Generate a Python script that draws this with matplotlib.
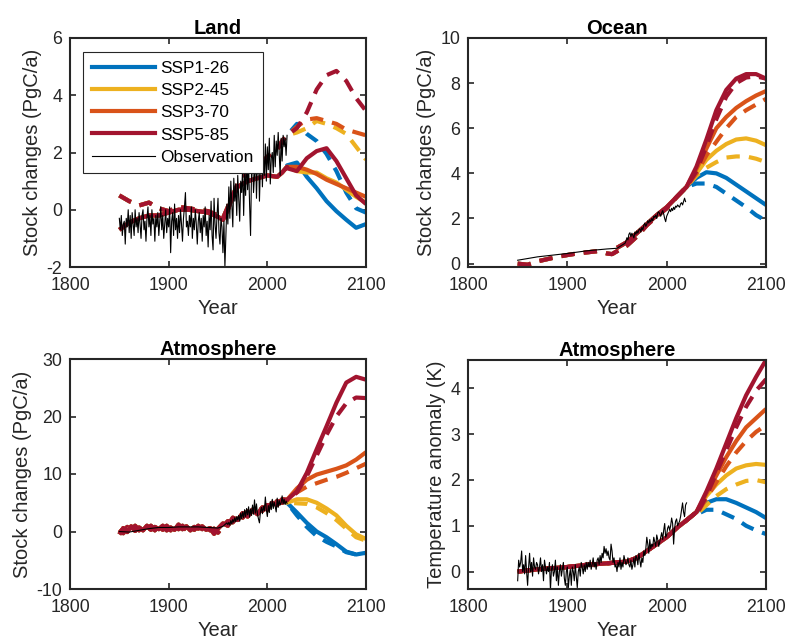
import matplotlib
matplotlib.use("Agg")
import matplotlib.pyplot as plt
from matplotlib.lines import Line2D

plt.rcParams["font.family"] = ["Liberation Sans", "DejaVu Sans"]
plt.rcParams["axes.unicode_minus"] = False

scenarios = ["SSP1-26", "SSP2-45", "SSP3-70", "SSP5-85"]
colors = ["#0072BD", "#EDB120", "#D95319", "#A2142F"]
ink = "#262626"

fut_years = [2020, 2030, 2040, 2050, 2060, 2070, 2080, 2090, 2100]
obs_years = list(range(1850, 2021))

# ---------------- Land ----------------
land_hist_years = [1850, 1860, 1870, 1880, 1890, 1900, 1910, 1920, 1930, 1940,
                   1950, 1955, 1960, 1965, 1970, 1980, 1990, 2000, 2010, 2015, 2020]
land_hist_solid = [-0.7, -0.45, -0.3, -0.2, -0.2, -0.1, 0.0, 0.0, -0.05, -0.1,
                   -0.25, -0.35, 0.0, 0.5, 0.8, 1.0, 1.1, 1.2, 1.15, 1.3, 1.5]
land_hist_dashed = [0.5, 0.3, 0.15, 0.25, 0.05, -0.05, 0.1, 0.05, 0.0, -0.05,
                    -0.2, -0.3, 0.1, 0.5, 0.9, 1.3, 1.5, 1.85, 2.1, 2.4, 2.6]
land_fut_solid = [
    [1.55, 1.65, 1.15, 0.75, 0.3, -0.05, -0.35, -0.63, -0.5],
    [1.5, 1.35, 1.3, 1.3, 1.1, 0.95, 0.7, 0.45, 0.25],
    [1.5, 1.5, 1.4, 1.25, 1.05, 0.9, 0.75, 0.6, 0.45],
    [1.45, 1.35, 1.8, 2.05, 2.15, 1.7, 1.1, 0.5, 0.2],
]
land_fut_dashed = [
    [2.6, 3.0, 2.65, 2.4, 1.95, 1.35, 0.6, 0.05, -0.1],
    [2.6, 2.7, 2.85, 3.1, 3.0, 2.85, 2.65, 2.2, 1.75],
    [2.6, 2.9, 3.15, 3.2, 3.1, 3.0, 2.8, 2.7, 2.6],
    [2.6, 2.85, 3.4, 4.2, 4.7, 4.85, 4.5, 3.9, 3.45],
]
land_obs = [
    -0.3, -0.7, -0.2, -0.9, -0.5, -0.4, -1.2, -0.3, -0.6, 0.0,
    -0.8, -0.2, -1.0, -0.1, -0.5, -0.9, 0.0, -0.6, -0.3, -0.8,
    -0.1, -0.5, -1.0, -0.2, 0.0, -0.7, -0.4, -1.1, -0.3, 0.1,
    -0.6, -0.2, -0.9, 0.0, -0.5, -0.3, -1.1, -0.2, -0.6, -0.1,
    -0.9, -0.4, 0.1, -0.7, -0.2, -1.0, -0.5, 0.0, -0.8, -0.3,
    -0.6, 0.1, -1.5, -0.4, -0.1, -0.9, 0.2, -0.7, -0.3, -1.0,
    -0.2, -0.8, 0.0, -0.5, -1.1, -0.3, 0.1, 0.6, -0.6, -0.4,
    -0.9, -0.2, -0.6, 0.1, -1.0, -0.3, -0.7, 0.0, -0.5, -1.2,
    -0.4, -0.1, -0.8, -0.3, -1.1, -0.2, -0.6, 0.1, -0.9, -0.4,
    -1.3, -0.2, -0.7, 0.3, -0.9, -1.4, 0.4, -0.5, -1.0, -0.2,
    0.4, -0.8, -1.2, -0.3, -0.6, -1.5, -0.4, -2.0, -0.9, 0.2,
    -0.5, 0.8, -0.3, 1.0, 0.2, -0.6, 1.1, 0.3, 0.9, -0.2,
    1.2, 0.4, -0.4, 1.0, 0.6, 1.5, -0.2, 1.3, 0.5, 1.8,
    0.7, 1.6, 0.2, -0.9, 1.4, 1.9, 0.6, 1.2, 2.0, 0.4,
    1.7, 2.1, 0.3, 1.5, 2.2, 0.8, 1.9, 1.2, 2.3, 1.0,
    2.2, 1.4, 2.5, 0.9, 1.8, 2.0, 1.3, 2.6, 1.5, 2.4,
    1.9, 2.7, 2.0, 1.2, 2.5, 1.7, 2.6, 2.2, 2.5, 1.9,
    2.6,
]

# ---------------- Ocean ----------------
ocean_hist_years_s = [1950, 1960, 1970, 1980, 1990, 2000, 2010, 2020]
ocean_hist_solid = [0.7, 0.95, 1.35, 1.75, 2.15, 2.5, 2.95, 3.4]
ocean_hist_years_d = [1850, 1860, 1870, 1880, 1890, 1900, 1910, 1920, 1930, 1940,
                      1945, 1950, 1960, 1970, 1980, 1990, 2000, 2010, 2020]
ocean_hist_dashed = [0.0, -0.05, 0.1, 0.2, 0.3, 0.38, 0.45, 0.5, 0.55, 0.45,
                     0.42, 0.55, 0.8, 1.2, 1.7, 2.1, 2.45, 2.95, 3.4]
ocean_fut_solid = [
    [3.4, 3.8, 4.05, 4.0, 3.8, 3.5, 3.2, 2.9, 2.6],
    [3.4, 4.0, 4.6, 5.0, 5.3, 5.5, 5.55, 5.45, 5.25],
    [3.4, 4.2, 5.1, 6.0, 6.5, 6.9, 7.2, 7.45, 7.65],
    [3.4, 4.3, 5.5, 6.8, 7.7, 8.2, 8.4, 8.4, 8.2],
]
ocean_fut_dashed = [
    [3.4, 3.55, 3.55, 3.4, 3.1, 2.8, 2.5, 2.15, 1.9],
    [3.4, 3.9, 4.25, 4.5, 4.7, 4.75, 4.75, 4.65, 4.5],
    [3.4, 4.0, 4.8, 5.4, 6.0, 6.5, 6.8, 7.05, 7.3],
    [3.4, 4.1, 5.2, 6.4, 7.4, 8.0, 8.25, 8.3, 8.2],
]
ocean_obs_years = [1850, 1870, 1900, 1920, 1940, 1950, 1958] + list(range(1959, 2020))
ocean_obs = [
    0.15, 0.3, 0.45, 0.57, 0.65, 0.68, 0.9,
    1.0, 1.15, 1.05, 1.3, 1.37, 1.2, 1.35, 1.25, 1.14, 1.4, 1.3,
    1.45, 1.35, 1.5, 1.55, 1.4, 1.6, 1.5, 1.7, 1.8, 1.65,
    1.75, 1.9, 1.8, 1.95, 1.85, 2.0, 1.9, 2.1, 2.05, 2.15,
    2.0, 2.25, 2.3, 2.2, 2.1, 2.25, 2.35, 2.2, 2.0, 1.86,
    2.1, 2.2, 2.3, 2.4, 2.3, 2.45, 2.35, 2.5, 2.4, 2.55,
    2.5, 2.6, 2.55, 2.5, 2.65, 2.7, 2.6, 2.75, 2.9, 2.75,
]

# ---------------- Atmosphere (carbon) ----------------
atm_hist_years = [1850, 1854, 1858, 1862, 1866, 1870, 1874, 1878, 1882, 1886,
                  1890, 1894, 1898, 1902, 1906, 1910, 1914, 1918, 1922, 1926,
                  1930, 1934, 1938, 1942, 1946, 1950, 1955, 1960, 1965, 1970,
                  1975, 1980, 1985, 1990, 1995, 2000, 2005, 2010, 2015, 2020]
atm_hist_solid = [-0.5, 0.6, -0.1, 0.9, 0.1, 0.7, 0.2, 1.0, 0.3, 0.8,
                  0.4, 1.0, 0.2, 0.7, 0.3, 1.2, 0.4, 0.9, 0.2, 0.8,
                  0.5, 0.9, 0.3, 0.6, -0.4, 0.5, 1.4, 1.0, 2.4, 2.0,
                  3.2, 2.6, 3.8, 3.0, 4.2, 3.8, 5.0, 4.6, 5.6, 5.5]
atm_hist_dashed = [0.3, -0.3, 0.8, 0.0, 1.0, 0.2, 1.1, 0.3, 1.0, 0.2,
                   1.1, 0.3, 1.0, 0.2, 1.1, 0.4, 1.0, 0.3, 1.0, 0.3,
                   1.0, 0.4, 0.9, 0.2, 0.5, -0.2, 0.9, 1.8, 1.6, 2.8,
                   2.4, 3.5, 3.0, 3.9, 3.6, 4.6, 4.3, 5.3, 5.0, 5.5]
atm_fut_solid = [
    [5.0, 3.3, 1.5, 0.0, -1.0, -2.2, -3.5, -4.0, -3.7],
    [5.0, 5.6, 5.6, 5.0, 4.0, 2.8, 1.0, -0.5, -1.3],
    [5.5, 7.5, 9.0, 9.9, 10.4, 10.9, 11.5, 12.5, 13.8],
    [5.5, 7.0, 10.2, 14.3, 18.3, 22.4, 25.9, 26.9, 26.4],
]
atm_fut_dashed = [
    [5.0, 2.8, 0.8, -0.8, -1.8, -2.6, -3.6, -4.0, -3.8],
    [5.0, 4.9, 4.8, 4.2, 3.2, 2.0, 0.5, -1.0, -1.6],
    [5.5, 6.8, 7.8, 8.4, 9.0, 9.5, 10.2, 11.0, 11.8],
    [5.5, 6.8, 9.6, 13.2, 16.8, 20.0, 22.3, 23.3, 23.2],
]
atm_obs_years = [1850, 1860, 1870, 1880, 1890, 1900, 1910, 1920, 1930, 1940,
                 1950, 1955] + list(range(1959, 2021))
atm_obs = [
    0.0, -0.1, 0.2, 0.5, 0.7, 0.7, 0.8, 0.8, 0.8, 0.7, 0.6, 0.9,
    1.5, 1.2, 1.6, 1.1, 1.9, 1.3, 2.1, 1.6, 2.4, 1.7, 2.6,
    2.0, 2.8, 1.8, 3.2, 2.2, 3.4, 2.4, 3.8, 2.6, 4.0,
    2.9, 4.3, 2.5, 3.9, 2.8, 4.6, 3.0, 5.5, 3.2, 4.8,
    3.0, 2.2, 1.5, 3.4, 4.2, 3.1, 4.4, 3.6, 6.0, 3.8,
    2.6, 4.5, 3.3, 5.2, 3.8, 5.6, 4.0, 5.1, 4.3, 3.4,
    5.8, 4.2, 5.4, 4.6, 5.0, 6.2, 4.8, 5.6, 4.7, 5.3, 4.9,
]

# ---------------- Atmosphere (temperature) ----------------
temp_hist_years = [1850, 1870, 1900, 1920, 1940, 1950, 1960, 1970, 1980, 1990,
                   2000, 2010, 2020, 2030]
temp_hist = [0.0, 0.05, 0.1, 0.15, 0.18, 0.2, 0.22, 0.3, 0.45, 0.6,
             0.75, 0.95, 1.12, 1.3]
temp_fut_years = [2030, 2040, 2050, 2060, 2070, 2080, 2090, 2100]
temp_fut_solid = [
    [1.3, 1.5, 1.58, 1.58, 1.5, 1.4, 1.3, 1.17],
    [1.3, 1.65, 1.9, 2.1, 2.25, 2.32, 2.35, 2.33],
    [1.3, 1.7, 2.1, 2.5, 2.85, 3.15, 3.35, 3.55],
    [1.3, 1.75, 2.25, 2.8, 3.35, 3.85, 4.25, 4.62],
]
temp_fut_dashed = [
    [1.25, 1.35, 1.35, 1.25, 1.15, 1.0, 0.9, 0.82],
    [1.25, 1.45, 1.65, 1.8, 1.9, 1.98, 2.0, 1.95],
    [1.25, 1.6, 1.95, 2.3, 2.6, 2.85, 3.05, 3.2],
    [1.25, 1.65, 2.15, 2.65, 3.15, 3.6, 3.95, 4.2],
]
temp_obs = [
    -0.2, 0.25, 0.1, 0.2, 0.45, 0.0, 0.15, -0.05, 0.35, 0.0,
    -0.3, 0.1, 0.4, 0.0, 0.2, -0.1, 0.3, 0.1, 0.05, 0.2,
    0.15, -0.05, 0.1, 0.3, 0.0, 0.15, -0.2, 0.25, 0.1, -0.05,
    0.1, 0.0, 0.2, -0.4, 0.05, 0.15, -0.1, 0.0, 0.25, -0.2,
    0.1, -0.3, 0.0, 0.15, -0.1, 0.05, 0.2, -0.15, -0.3, 0.0,
    0.1, -0.35, -0.1, 0.05, -0.3, 0.1, 0.0, -0.2, 0.15, -0.1,
    -0.35, 0.0, 0.1, -0.1, 0.2, 0.1, -0.05, 0.15, 0.0, 0.2,
    0.05, 0.2, 0.1, 0.25, 0.05, 0.15, 0.3, 0.1, 0.2, 0.05,
    0.25, 0.3, 0.15, 0.35, 0.2, 0.4, 0.3, 0.55, 0.4, 0.5,
    0.35, 0.45, 0.3, 0.25, 0.6, 0.45, 0.2, 0.3, 0.1, 0.15,
    0.0, 0.2, 0.1, 0.3, 0.05, 0.2, 0.1, 0.35, 0.25, 0.15,
    0.2, 0.3, 0.15, 0.1, 0.25, 0.05, 0.15, 0.3, 0.1, 0.35,
    0.3, 0.15, 0.4, 0.25, 0.1, 0.3, 0.2, 0.45, 0.35, 0.5,
    0.75, 0.6, 0.4, 0.7, 0.5, 0.6, 0.55, 0.75, 0.65, 0.55,
    0.8, 0.7, 0.55, 0.65, 0.75, 0.85, 0.7, 0.9, 1.05, 0.75,
    0.8, 0.95, 1.0, 0.9, 1.0, 1.17, 1.05, 0.6, 0.95, 1.1,
    1.15, 1.0, 1.05, 1.1, 1.2, 1.35, 1.5, 1.3, 1.2, 1.45,
    1.5,
]

LW = 3.0
DASH = (3.2, 2.2)

fig = plt.figure(figsize=(7.86, 6.44), dpi=100)
W, H = 786, 644


def make_ax(left, top, right, bottom):
    return fig.add_axes([left / W, 1 - bottom / H, (right - left) / W, (bottom - top) / H])


def draw_models(ax, hs_years, hs_vals, hd_years, hd_vals, f_years, f_solid, f_dashed):
    for i in range(4):
        ax.plot(list(hs_years) + list(f_years), list(hs_vals) + list(f_solid[i]),
                color=colors[i], lw=LW, solid_capstyle="butt")
        ax.plot(list(hd_years) + list(f_years), list(hd_vals) + list(f_dashed[i]),
                color=colors[i], lw=LW, dashes=DASH, dash_capstyle="butt")


def style(ax, title, ylabel, ylim, yticks):
    ax.set_xlim(1800, 2100)
    ax.set_xticks([1800, 1900, 2000, 2100])
    ax.set_ylim(*ylim)
    ax.set_yticks(yticks)
    ax.set_title(title, fontsize=14.5, fontweight="bold", pad=3)
    ax.set_xlabel("Year", fontsize=14.5, color=ink, labelpad=4)
    ax.set_ylabel(ylabel, fontsize=14.5, color=ink, labelpad=3)
    ax.tick_params(direction="in", top=True, right=True, length=4, width=1.2,
                   labelsize=12.8, colors=ink)
    ax.tick_params(axis="x", pad=7)
    ax.tick_params(axis="y", pad=5.5)
    for sp in ax.spines.values():
        sp.set_linewidth(1.5)
        sp.set_color(ink)


# Land
ax1 = make_ax(70, 38, 366, 267)
draw_models(ax1, land_hist_years, land_hist_solid, land_hist_years, land_hist_dashed,
            fut_years, land_fut_solid, land_fut_dashed)
ax1.plot(obs_years, land_obs, color="black", lw=0.8)
style(ax1, "Land", "Stock changes (PgC/a)", (-2, 6), [-2, 0, 2, 4, 6])

handles = [Line2D([], [], color=c, lw=LW) for c in colors]
handles.append(Line2D([], [], color="black", lw=0.8))
leg = ax1.legend(handles, scenarios + ["Observation"], loc="upper left",
                 bbox_to_anchor=(0.044, 0.939), borderaxespad=0, fontsize=12.4,
                 handlelength=3.7, handletextpad=0.3, labelspacing=0.42,
                 borderpad=0.5, fancybox=False, framealpha=1)
leg.get_frame().set_edgecolor(ink)
leg.get_frame().set_linewidth(0.8)

# Ocean
ax2 = make_ax(468, 38, 766, 267)
draw_models(ax2, ocean_hist_years_s, ocean_hist_solid, ocean_hist_years_d, ocean_hist_dashed,
            fut_years, ocean_fut_solid, ocean_fut_dashed)
ax2.plot(ocean_obs_years, ocean_obs, color="black", lw=0.8)
style(ax2, "Ocean", "Stock changes (PgC/a)", (-0.15, 10), [0, 2, 4, 6, 8, 10])

# Atmosphere carbon
ax3 = make_ax(70, 359, 366, 589)
draw_models(ax3, atm_hist_years, atm_hist_solid, atm_hist_years, atm_hist_dashed,
            fut_years, atm_fut_solid, atm_fut_dashed)
ax3.plot(atm_obs_years, atm_obs, color="black", lw=0.8)
style(ax3, "Atmosphere", "Stock changes (PgC/a)", (-10, 30), [-10, 0, 10, 20, 30])

# Atmosphere temperature
ax4 = make_ax(468, 360, 766, 589)
draw_models(ax4, temp_hist_years, temp_hist, temp_hist_years, temp_hist,
            temp_fut_years, temp_fut_solid, temp_fut_dashed)
ax4.plot(obs_years, temp_obs, color="black", lw=0.8)
style(ax4, "Atmosphere", "Temperature anomaly (K)", (-0.38, 4.62), [0, 1, 2, 3, 4])

fig.savefig("out.png", dpi=100)
plt.close(fig)
